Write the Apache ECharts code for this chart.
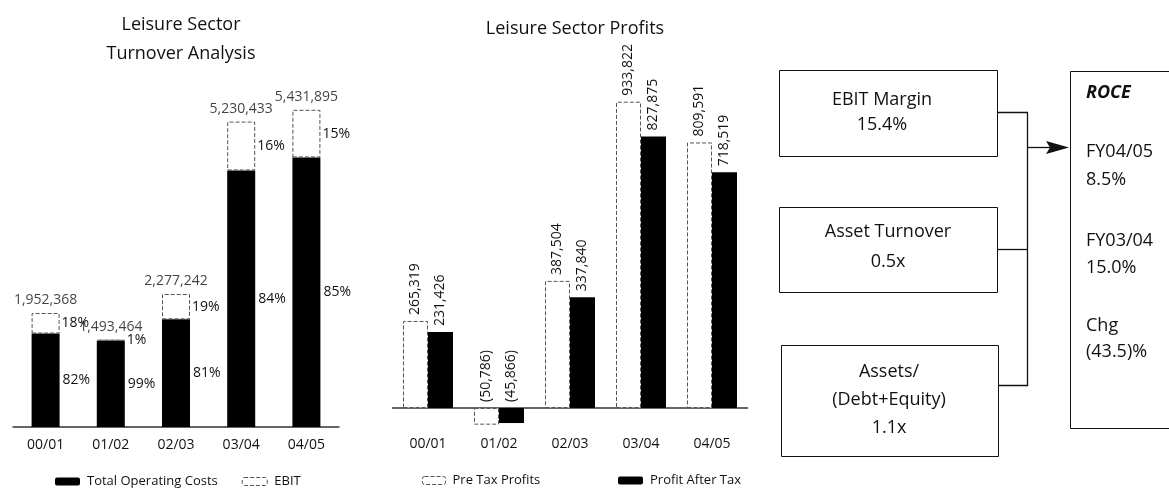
<!DOCTYPE html>
<html>
<head>
<meta charset="utf-8">
<title>Leisure Sector</title>
<script src="https://cdn.jsdelivr.net/npm/echarts@6/dist/echarts.min.js"></script>
<style>
  html, body { margin: 0; padding: 0; background: #fff; }
  #chart { width: 1169px; height: 489px; }
</style>
</head>
<body>
<div id="chart"></div>
<script>
// Financial years shown on both charts
const categories = ['00/01', '01/02', '02/03', '03/04', '04/05'];

// Turnover analysis: total turnover and the operating-cost part of it
const turnoverTotals = [1952368, 1493464, 2277242, 5230433, 5431895];
const operatingCosts = [1601000, 1478500, 1844600, 4393600, 4617100];
const costShareLabels = ['82%', '99%', '81%', '84%', '85%'];
const ebitShareLabels = ['18%', '1%', '19%', '16%', '15%'];

// Profits
const preTaxProfits = [265319, -50786, 387504, 933822, 809591];
const profitAfterTax = [231426, -45866, 337840, 827875, 718519];

// ROCE driver tree
const driverBoxes = [
  ['EBIT Margin', '15.4%'],
  ['Asset Turnover', '0.5x'],
  ['Assets/', '(Debt+Equity)', '1.1x']
];
const roceTitle = 'ROCE';
const roceLines = ['FY04/05', '8.5%', 'FY03/04', '15.0%', 'Chg', '(43.5)%'];

const FONT = '"Open Sans", "Noto Sans", sans-serif';
const INK = '#111';

const ebitValues = turnoverTotals.map((t, i) => t - operatingCosts[i]);

function fmt(v) {
  const s = Math.abs(v).toLocaleString('en-US');
  return v < 0 ? '(' + s + ')' : s;
}

const chart = echarts.init(document.getElementById('chart'), null, { renderer: 'canvas' });

// ---- driver tree graphics ----
const graphics = [];
const boxRects = [
  { x: 779.5, y: 70.5, w: 218, h: 86 },
  { x: 779.5, y: 207.5, w: 218, h: 85 },
  { x: 781.5, y: 345.5, w: 217, h: 111 }
];
const boxTextX = [882, 888, 889];
const boxTextY = [[100, 125], [232, 262], [372, 400, 428]];
boxRects.forEach((r, i) => {
  graphics.push({
    type: 'rect', shape: { x: r.x, y: r.y, width: r.w, height: r.h },
    style: { fill: '#fff', stroke: INK, lineWidth: 1 }
  });
  driverBoxes[i].forEach((line, j) => {
    graphics.push({
      type: 'text', x: boxTextX[i], y: boxTextY[i][j],
      style: { text: line, fill: INK, font: '18px ' + FONT, textAlign: 'center', textVerticalAlign: 'middle' }
    });
  });
});
// connectors
graphics.push({
  type: 'polyline', shape: { points: [[997.5, 112.5], [1027.5, 112.5], [1027.5, 385.5], [998.5, 385.5]] },
  style: { stroke: INK, lineWidth: 1.3, fill: null }
});
graphics.push({
  type: 'line', shape: { x1: 997.5, y1: 249.5, x2: 1027.5, y2: 249.5 },
  style: { stroke: INK, lineWidth: 1.3 }
});
graphics.push({
  type: 'line', shape: { x1: 1027.5, y1: 147.5, x2: 1050, y2: 147.5 },
  style: { stroke: INK, lineWidth: 1.3 }
});
graphics.push({
  type: 'polygon', shape: { points: [[1046, 141], [1069, 147.5], [1046, 154], [1050, 147.5]] },
  style: { fill: INK }
});
// ROCE box
graphics.push({
  type: 'rect', shape: { x: 1070.5, y: 71.5, width: 130, height: 357 },
  style: { fill: '#fff', stroke: INK, lineWidth: 1 }
});
graphics.push({
  type: 'text', x: 1086, y: 93,
  style: { text: roceTitle, fill: INK, font: 'italic bold 18px ' + FONT, textVerticalAlign: 'middle' }
});
const roceY = [152, 180, 241, 268, 326, 352];
roceLines.forEach((t, i) => {
  graphics.push({
    type: 'text', x: 1086, y: roceY[i],
    style: { text: t, fill: INK, font: '18px ' + FONT, textVerticalAlign: 'middle' }
  });
});

const legendText = { fontSize: 13, color: INK, fontFamily: FONT, padding: [0, 0, 0, 2] };
const dashedWhite = { color: '#fff', borderColor: '#555', borderWidth: 1, borderType: 'dashed' };

const option = {
  animation: false,
  backgroundColor: '#fff',
  textStyle: { fontFamily: FONT },
  title: [
    {
      text: 'Leisure Sector\nTurnover Analysis', left: 176, top: 5, textAlign: 'center',
      textStyle: { fontSize: 18, fontWeight: 'normal', color: INK, lineHeight: 29, fontFamily: FONT }
    },
    {
      text: 'Leisure Sector Profits', left: 570, top: 15, textAlign: 'center',
      textStyle: { fontSize: 18, fontWeight: 'normal', color: INK, fontFamily: FONT }
    }
  ],
  legend: [
    {
      data: [
        { name: 'Total Operating Costs', itemStyle: { color: '#000' } },
        { name: 'EBIT', itemStyle: dashedWhite }
      ],
      left: 50, top: 470, itemWidth: 25, itemHeight: 8, itemGap: 24,
      textStyle: legendText, selectedMode: false
    },
    {
      data: [{ name: 'Pre Tax Profits', itemStyle: dashedWhite }],
      left: 417, top: 469, itemWidth: 23, itemHeight: 8,
      textStyle: legendText, selectedMode: false
    },
    {
      data: [{ name: 'Profit After Tax', itemStyle: { color: '#000' } }],
      left: 613, top: 469, itemWidth: 25, itemHeight: 8,
      textStyle: legendText, selectedMode: false
    }
  ],
  grid: [
    { left: 13, top: 100, width: 326, height: 327 },
    { left: 392.5, top: 80, width: 355, height: 360.8 }
  ],
  xAxis: [
    {
      type: 'category', gridIndex: 0, data: categories,
      axisLine: { lineStyle: { color: '#333', width: 1.5 } },
      axisTick: { show: false },
      axisLabel: { margin: 11, fontSize: 14, color: INK, fontFamily: FONT }
    },
    {
      type: 'category', gridIndex: 1, data: categories,
      axisLine: { onZero: true, lineStyle: { color: '#333', width: 1.5 } },
      axisTick: { show: false },
      axisLabel: { margin: -4, fontSize: 14, color: INK, fontFamily: FONT }
    }
  ],
  yAxis: [
    { type: 'value', gridIndex: 0, min: 0, max: 5600000, show: false },
    { type: 'value', gridIndex: 1, min: -100000, max: 1000000, show: false }
  ],
  graphic: graphics,
  series: [
    {
      name: 'Total Operating Costs', type: 'bar', stack: 'turnover',
      xAxisIndex: 0, yAxisIndex: 0, barWidth: 28,
      data: operatingCosts,
      itemStyle: { color: '#000' },
      label: {
        show: true, position: 'right', distance: 3, fontSize: 14, color: INK, fontFamily: FONT,
        formatter: p => costShareLabels[p.dataIndex]
      }
    },
    {
      name: 'EBIT', type: 'bar', stack: 'turnover',
      xAxisIndex: 0, yAxisIndex: 0, barWidth: 28,
      data: ebitValues,
      itemStyle: dashedWhite,
      label: {
        show: true, position: 'right', distance: 2, fontSize: 14, color: INK, fontFamily: FONT,
        formatter: p => ebitShareLabels[p.dataIndex]
      }
    },
    {
      name: 'Turnover', type: 'scatter', xAxisIndex: 0, yAxisIndex: 0,
      data: turnoverTotals, symbolSize: 0, silent: true,
      label: {
        show: true, position: 'top', distance: 6, fontSize: 14, color: INK, fontFamily: FONT,
        formatter: p => fmt(p.value)
      }
    },
    {
      name: 'Pre Tax Profits', type: 'bar', xAxisIndex: 1, yAxisIndex: 1,
      barWidth: 25, barGap: '0%',
      data: preTaxProfits,
      itemStyle: dashedWhite,
      label: {
        show: true, position: 'top', rotate: 90, align: 'left', verticalAlign: 'middle',
        distance: 6, fontSize: 14, color: INK, fontFamily: FONT,
        formatter: p => fmt(p.value)
      }
    },
    {
      name: 'Profit After Tax', type: 'bar', xAxisIndex: 1, yAxisIndex: 1,
      barWidth: 25, barGap: '0%',
      data: profitAfterTax,
      itemStyle: { color: '#000' },
      label: {
        show: true, position: 'top', rotate: 90, align: 'left', verticalAlign: 'middle',
        distance: 6, fontSize: 14, color: INK, fontFamily: FONT,
        formatter: p => fmt(p.value)
      }
    }
  ]
};

chart.setOption(option);
</script>
</body>
</html>
